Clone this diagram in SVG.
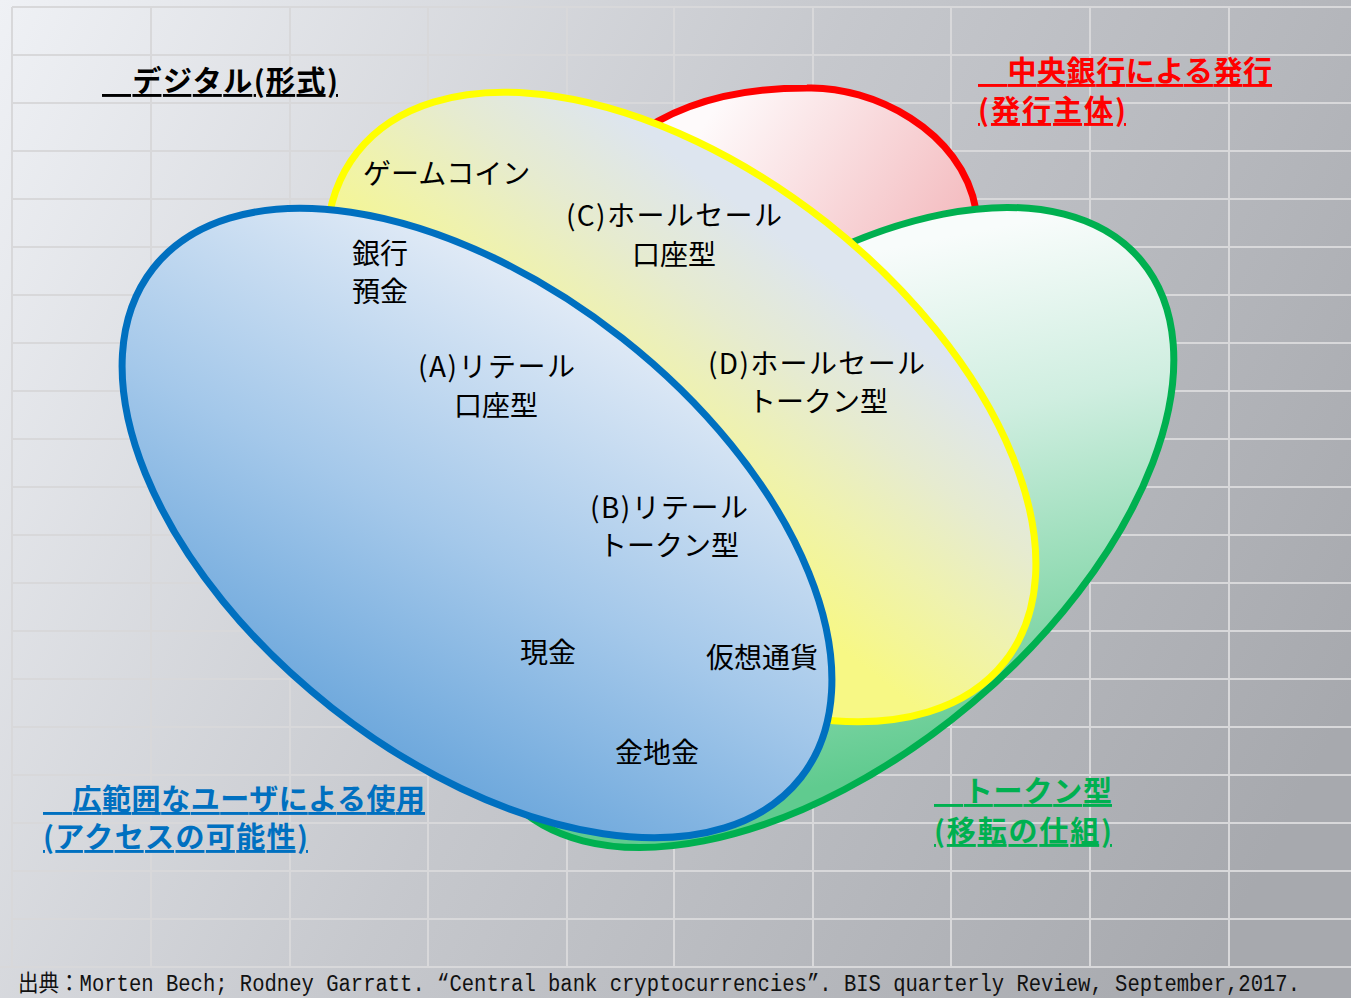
<svg xmlns="http://www.w3.org/2000/svg" width="1351" height="998" viewBox="0 0 1351 998">
  <defs>
    <linearGradient id="bg" gradientUnits="userSpaceOnUse" x1="0" y1="0" x2="1351" y2="700">
      <stop offset="0" stop-color="#eff1f5"/>
      <stop offset="0.5" stop-color="#c6c8cd"/>
      <stop offset="1" stop-color="#a7a9ae"/>
    </linearGradient>
    <linearGradient id="gBlue" gradientUnits="userSpaceOnUse" x1="360" y1="790" x2="610" y2="320" gradientTransform="rotate(-38.2 477 523)">
      <stop offset="0" stop-color="#62a1d9"/>
      <stop offset="0.5" stop-color="#a4c8ea"/>
      <stop offset="1" stop-color="#e0eaf6"/>
    </linearGradient>
    <linearGradient id="gYellow" gradientUnits="userSpaceOnUse" x1="880" y1="680" x2="1058" y2="449" gradientTransform="rotate(-38.2 681 407)">
      <stop offset="0" stop-color="#f7f885"/>
      <stop offset="0.35" stop-color="#eff2ae"/>
      <stop offset="0.65" stop-color="#e6ebd0"/>
      <stop offset="1" stop-color="#dde5ef"/>
    </linearGradient>
    <linearGradient id="gRed" gradientUnits="userSpaceOnUse" x1="720" y1="100" x2="960" y2="260">
      <stop offset="0" stop-color="#fefafb"/>
      <stop offset="1" stop-color="#f3b8bc"/>
    </linearGradient>
    <linearGradient id="gGreen" gradientUnits="userSpaceOnUse" x1="880" y1="250" x2="981" y2="754" gradientTransform="rotate(40.1 823.5 527.5)">
      <stop offset="0" stop-color="#f8fcfb"/>
      <stop offset="0.35" stop-color="#cfeee0"/>
      <stop offset="1" stop-color="#60cb8f"/>
    </linearGradient>
  </defs>
  <style>
    .set { stroke-width: 7; }
    .in { font-family: "Noto Sans CJK JP", "Noto Sans", sans-serif; font-size: 28px; fill: #000; }
    .mid { text-anchor: middle; }
    .lab { font-family: "Noto Sans CJK JP", "Noto Sans", sans-serif; font-size: 29px; font-weight: bold; text-decoration: underline; }
    .foot { font-family: "Liberation Mono", "Noto Sans CJK JP", monospace; font-size: 23px; fill: #111; }
  </style>

  <rect id="background" x="0" y="0" width="1351" height="998" fill="url(#bg)"/>
  <path id="grid" fill="none" stroke="#d8d8da" stroke-width="2"
    d="M12 7V967M151 7V967M290 7V967M428 7V967M567 7V967M674 7V967M813 7V967M951 7V967M1090 7V967M1229 7V967
       M12 7H1351M12 55H1351M12 103H1351M12 151H1351M12 199H1351M12 247H1351M12 295H1351M12 343H1351M12 391H1351M12 439H1351
       M12 487H1351M12 535H1351M12 583H1351M12 631H1351M12 679H1351M12 727H1351M12 775H1351M12 823H1351M12 871H1351M12 919H1351M0 967H1351"/>

  <g id="set-central-bank">
    <path class="set" fill="url(#gRed)" stroke="#ff0000" d="M630,140 C680,100 745,88 807,88 C872,86 962,130 976,210 L980,285 L880,300 L700,250 Z"/>
  </g>
  <g id="set-token">
    <ellipse class="set" cx="823.5" cy="527.5" rx="415" ry="230" transform="rotate(-40.1 823.5 527.5)" fill="url(#gGreen)" stroke="#00b050"/>
  </g>
  <g id="set-digital">
    <ellipse class="set" cx="681" cy="407" rx="412" ry="235" transform="rotate(38.2 681 407)" fill="url(#gYellow)" stroke="#ffff00"/>
  </g>
  <g id="set-wide-access">
    <ellipse class="set" cx="477" cy="523" rx="412" ry="235" transform="rotate(38.2 477 523)" fill="url(#gBlue)" stroke="#0070c0"/>
  </g>

  <g id="connectors"/>

  <g id="label-game-coin"><text class="in" x="363" y="184">ゲームコイン</text></g>
  <g id="label-c">
    <text class="in" x="566" y="226" textLength="216" lengthAdjust="spacing">(C)ホールセール</text>
    <text class="in mid" x="674" y="265">口座型</text>
  </g>
  <g id="label-bank-deposit">
    <text class="in" x="352" y="264">銀行</text>
    <text class="in" x="352" y="302">預金</text>
  </g>
  <g id="label-a">
    <text class="in" x="418" y="377" textLength="157" lengthAdjust="spacing">(A)リテール</text>
    <text class="in mid" x="496" y="416">口座型</text>
  </g>
  <g id="label-d">
    <text class="in" x="708" y="374" textLength="217" lengthAdjust="spacing">(D)ホールセール</text>
    <text class="in mid" x="818" y="412">トークン型</text>
  </g>
  <g id="label-b">
    <text class="in" x="590" y="518" textLength="158" lengthAdjust="spacing">(B)リテール</text>
    <text class="in mid" x="669" y="556">トークン型</text>
  </g>
  <g id="label-cash"><text class="in mid" x="548" y="663">現金</text></g>
  <g id="label-crypto"><text class="in mid" x="762" y="668">仮想通貨</text></g>
  <g id="label-gold"><text class="in mid" x="657" y="763">金地金</text></g>

  <g id="title-digital">
    <text class="lab" x="102" y="92" fill="#000" textLength="236" lengthAdjust="spacing">　デジタル(形式)</text>
  </g>
  <g id="title-central-bank">
    <text class="lab" x="978" y="82" fill="#ff0000" textLength="294" lengthAdjust="spacing">　中央銀行による発行</text>
    <text class="lab" x="978" y="121" fill="#ff0000" textLength="148" lengthAdjust="spacing">(発行主体)</text>
  </g>
  <g id="title-wide-access">
    <text class="lab" x="43" y="810" fill="#0070c0" textLength="382" lengthAdjust="spacing">　広範囲なユーザによる使用</text>
    <text class="lab" x="43" y="848" fill="#0070c0" textLength="265" lengthAdjust="spacing">(アクセスの可能性)</text>
  </g>
  <g id="title-token">
    <text class="lab" x="934" y="802" fill="#00b050" textLength="178" lengthAdjust="spacing">　トークン型</text>
    <text class="lab" x="934" y="842" fill="#00b050" textLength="178" lengthAdjust="spacing">(移転の仕組)</text>
  </g>

  <g id="source">
    <text class="foot" x="18" y="991" textLength="1282" lengthAdjust="spacingAndGlyphs">出典：Morten Bech; Rodney Garratt. “Central bank cryptocurrencies”. BIS quarterly Review, September,2017.</text>
  </g>
</svg>
